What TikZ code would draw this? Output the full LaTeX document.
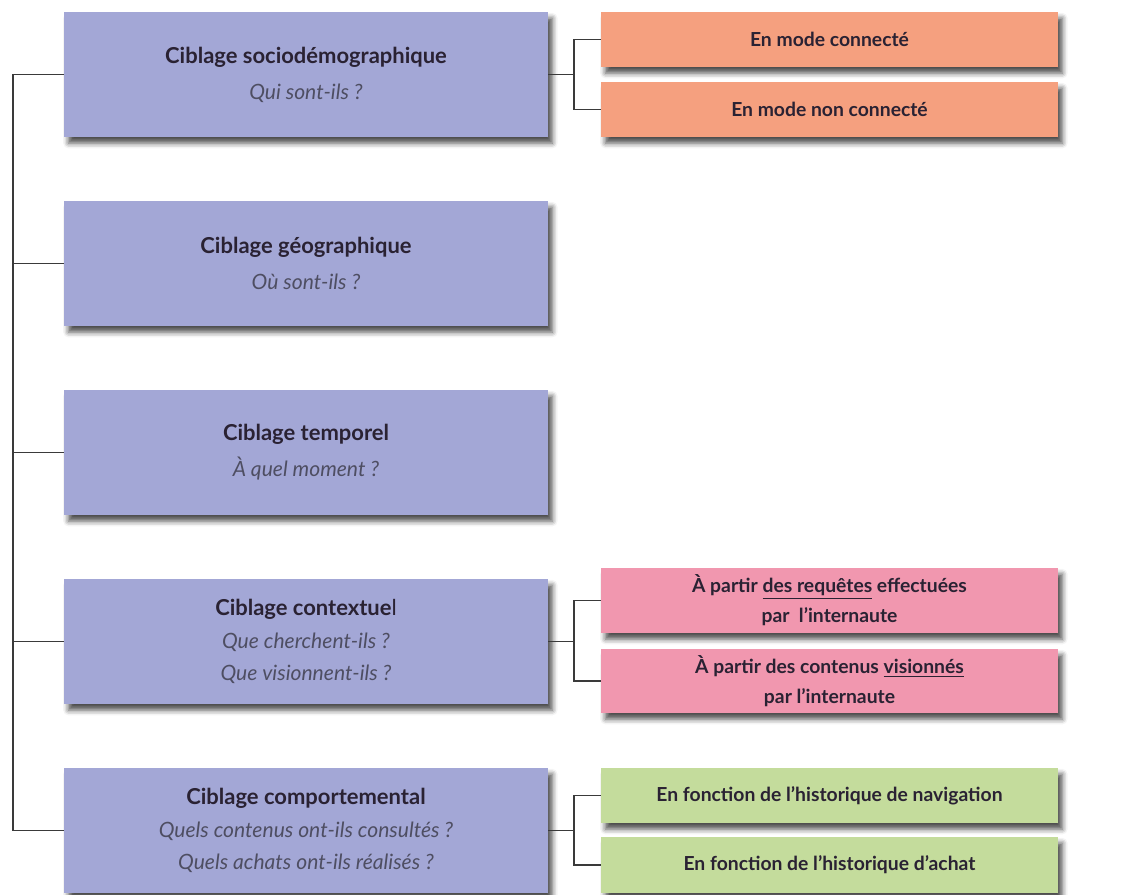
\documentclass[tikz,border=0pt]{standalone}
\usepackage{fontspec}
\setmainfont{Lato}
\usepackage{xcolor}
\usetikzlibrary{shadows.blur}

\definecolor{cibleblue}{HTML}{A3A7D6}
\definecolor{modeorange}{HTML}{F5A07F}
\definecolor{ctxpink}{HTML}{F197AF}
\definecolor{histgreen}{HTML}{C4DC9C}
\definecolor{titrecol}{HTML}{2A2233}
\definecolor{questcol}{HTML}{4E4E62}
\definecolor{liengrey}{HTML}{3A3A3A}

\newcommand{\titre}[1]{{\fontsize{12.5}{18.5}\selectfont\bfseries\color{titrecol}#1}}
\newcommand{\question}[1]{{\fontsize{12}{18.5}\selectfont\itshape\color{questcol}#1}}

\tikzset{
  ombre/.style={blur shadow={shadow xshift=2.5pt, shadow yshift=-3.5pt,
      shadow blur radius=3pt, shadow opacity=70}},
  cible/.style={fill=cibleblue, ombre, minimum width=9.68cm,
      minimum height=2.5cm, inner sep=0pt, align=center,
      font=\fontsize{12}{18.5}\selectfont},
  sousbox/.style={ombre, minimum width=9.14cm, inner sep=0pt,
      align=center, font=\fontsize{11}{17}\selectfont\bfseries\color{titrecol}},
  lien/.style={draw=liengrey, line width=1pt}
}

\begin{document}
\begin{tikzpicture}[x=0.02cm, y=-0.02cm]
  \useasboundingbox (0,0) rectangle (1122,895);
  \coordinate (spine) at (13,0);
  \coordinate (fork) at (574,0);

  % ciblages
  \node[cible] (soc) at (306,74.5)
    {\titre{Ciblage sociodémographique}\\[2pt]\question{Qui sont-ils ?}};
  \node[cible] (geo) at (306,263.5)
    {\titre{Ciblage géographique}\\[2pt]\question{Où sont-ils ?}};
  \node[cible] (temp) at (306,452.5)
    {\titre{Ciblage temporel}\\[2pt]\question{À quel moment ?}};
  \node[cible] (ctx) at (306,641.5)
    {\titre{Ciblage contextue}{\fontsize{12.5}{18.5}\selectfont\color{titrecol}l}\\\question{Que cherchent-ils ?}\\\question{Que visionnent-ils ?}};
  \node[cible] (comp) at (306,830.5)
    {\titre{Ciblage comportemental}\\\question{Quels contenus ont-ils consultés ?}\\\question{Quels achats ont-ils réalisés ?}};

  % sous-categories
  \node[sousbox, fill=modeorange, minimum height=1.1cm] (con) at (829.5,39.5) {En mode connecté};
  \node[sousbox, fill=modeorange, minimum height=1.1cm] (ncon) at (829.5,109.5) {En mode non connecté};
  \node[sousbox, fill=ctxpink, minimum height=1.3cm] (req) at (829.5,600.5)
    {À partir \underline{des requêtes} effectuées\\par~~l’internaute};
  \node[sousbox, fill=ctxpink, minimum height=1.28cm] (vis) at (829.5,681)
    {À partir des contenus \underline{visionnés}\\par l’internaute};
  \node[sousbox, fill=histgreen, minimum height=1.1cm] (nav) at (829.5,795.5)
    {En fonction de l’historique de navigation};
  \node[sousbox, fill=histgreen, minimum height=1.12cm] (ach) at (829.5,865)
    {En fonction de l’historique d’achat};

  % liens gauche
  \draw[lien] (soc.west) -- (soc.west -| spine) -- (comp.west -| spine) -- (comp.west);
  \foreach \n in {geo,temp,ctx}
    \draw[lien] (\n.west) -- (\n.west -| spine);

  % liens droite
  \draw[lien] (soc.east) -- (soc.east -| fork);
  \draw[lien] (con.west) -- (con.west -| fork) -- (ncon.west -| fork) -- (ncon.west);
  \draw[lien] (ctx.east) -- (ctx.east -| fork);
  \draw[lien] (req.west) -- (req.west -| fork) -- (vis.west -| fork) -- (vis.west);
  \draw[lien] (comp.east) -- (comp.east -| fork);
  \draw[lien] (nav.west) -- (nav.west -| fork) -- (ach.west -| fork) -- (ach.west);
\end{tikzpicture}
\end{document}
